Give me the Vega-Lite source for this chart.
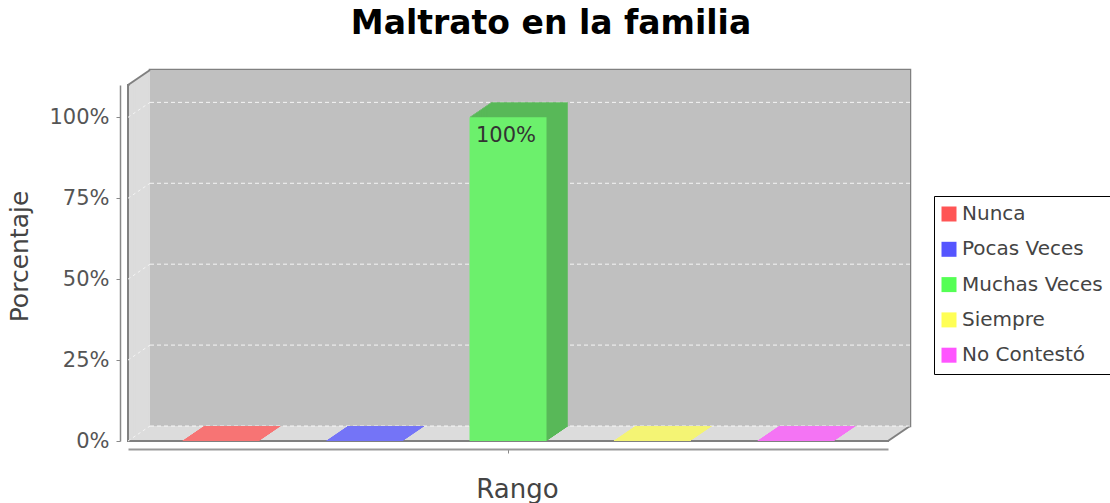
{
"$schema": "https://vega.github.io/schema/vega-lite/v6.json",
"width": 760,
"height": 356,
"autosize": "none",
"padding": {"left": 128, "top": 85, "right": 222, "bottom": 62},
"background": "#ffffff",
"config": {"view": {"stroke": null}, "font": "DejaVu Sans"},
"title": {"text": "Maltrato en la familia", "anchor": "middle", "frame": "group", "dx": 43, "dy": 18, "font": "DejaVu Sans", "fontSize": 33, "fontWeight": "bold", "color": "#000000", "baseline": "alphabetic", "offset": 20},
"data": {"values": [
{"serie": "Nunca", "valor": 0},
{"serie": "Pocas Veces", "valor": 0},
{"serie": "Muchas Veces", "valor": 1},
{"serie": "Siempre", "valor": 0},
{"serie": "No Contestó", "valor": 0}
]},
"layer": [
{
"data": {"values": [{"marco": "caja"}]},
"encoding": {
"x": {"datum": 0, "type": "quantitative", "scale": {"domain": [0, 1]}, "axis": null},
"x2": {"datum": 1},
"y": {"datum": 0, "type": "quantitative", "axis": null},
"y2": {"datum": 1.1}
},
"layer": [
{"mark": {"type": "rect", "fill": "#dcdcdc", "stroke": "#808080", "strokeWidth": 2}},
{"mark": {"type": "rect", "fill": "#c0c0c0", "fillOpacity": 0, "stroke": "#808080", "strokeWidth": 2.5, "xOffset": 22, "x2Offset": 22, "yOffset": -15, "y2Offset": -15}},
{"mark": {"type": "rect", "fill": "#dcdcdc", "xOffset": 1.467, "x2Offset": 1.467, "yOffset": -1, "y2Offset": -1}},
{"mark": {"type": "rect", "fill": "#dcdcdc", "xOffset": 2.933, "x2Offset": 2.933, "yOffset": -2, "y2Offset": -2}},
{"mark": {"type": "rect", "fill": "#dcdcdc", "xOffset": 4.4, "x2Offset": 4.4, "yOffset": -3, "y2Offset": -3}},
{"mark": {"type": "rect", "fill": "#dcdcdc", "xOffset": 5.867, "x2Offset": 5.867, "yOffset": -4, "y2Offset": -4}},
{"mark": {"type": "rect", "fill": "#dcdcdc", "xOffset": 7.333, "x2Offset": 7.333, "yOffset": -5, "y2Offset": -5}},
{"mark": {"type": "rect", "fill": "#dcdcdc", "xOffset": 8.8, "x2Offset": 8.8, "yOffset": -6, "y2Offset": -6}},
{"mark": {"type": "rect", "fill": "#dcdcdc", "xOffset": 10.267, "x2Offset": 10.267, "yOffset": -7, "y2Offset": -7}},
{"mark": {"type": "rect", "fill": "#dcdcdc", "xOffset": 11.733, "x2Offset": 11.733, "yOffset": -8, "y2Offset": -8}},
{"mark": {"type": "rect", "fill": "#dcdcdc", "xOffset": 13.2, "x2Offset": 13.2, "yOffset": -9, "y2Offset": -9}},
{"mark": {"type": "rect", "fill": "#dcdcdc", "xOffset": 14.667, "x2Offset": 14.667, "yOffset": -10, "y2Offset": -10}},
{"mark": {"type": "rect", "fill": "#dcdcdc", "xOffset": 16.133, "x2Offset": 16.133, "yOffset": -11, "y2Offset": -11}},
{"mark": {"type": "rect", "fill": "#dcdcdc", "xOffset": 17.6, "x2Offset": 17.6, "yOffset": -12, "y2Offset": -12}},
{"mark": {"type": "rect", "fill": "#dcdcdc", "xOffset": 19.067, "x2Offset": 19.067, "yOffset": -13, "y2Offset": -13}},
{"mark": {"type": "rect", "fill": "#dcdcdc", "xOffset": 20.533, "x2Offset": 20.533, "yOffset": -14, "y2Offset": -14}},
{"mark": {"type": "rect", "fill": "#c0c0c0", "xOffset": 22, "x2Offset": 22, "yOffset": -15, "y2Offset": -15}},
{"mark": {"type": "rule", "color": "#808080", "strokeWidth": 2, "x2Offset": 22, "y2Offset": -15},
 "encoding": {"x": {"datum": 0, "type": "quantitative", "scale": {"domain": [0, 1]}, "axis": null}, "x2": {"datum": 0}, "y": {"datum": 1.1, "type": "quantitative", "axis": null}, "y2": {"datum": 1.1}}},
{"mark": {"type": "rule", "color": "#808080", "strokeWidth": 2, "x2Offset": 22, "y2Offset": -15},
 "encoding": {"x": {"datum": 1, "type": "quantitative", "scale": {"domain": [0, 1]}, "axis": null}, "x2": {"datum": 1}, "y": {"datum": 0, "type": "quantitative", "axis": null}, "y2": {"datum": 0}}}
]
},
{
"data": {"values": [{"g": 0}, {"g": 0.25}, {"g": 0.5}, {"g": 0.75}, {"g": 1}]},
"layer": [
{"mark": {"type": "rule", "color": "#f4f4f4", "strokeDash": [3, 3], "strokeWidth": 1, "x2Offset": 22, "y2Offset": -15},
 "encoding": {"x": {"datum": 0, "type": "quantitative", "scale": {"domain": [0, 1]}, "axis": null}, "x2": {"datum": 0}, "y": {"field": "g", "type": "quantitative", "axis": null}, "y2": {"field": "g"}}},
{"mark": {"type": "rule", "color": "#ffffff", "strokeDash": [4, 3], "strokeWidth": 1, "opacity": 0.85, "xOffset": 22, "x2Offset": 22, "yOffset": -15},
 "encoding": {"x": {"datum": 0, "type": "quantitative", "scale": {"domain": [0, 1]}, "axis": null}, "x2": {"datum": 1}, "y": {"field": "g", "type": "quantitative", "axis": null}}}
]
},
{
"encoding": {
"x": {"field": "serie", "type": "nominal", "scale": {"domain": ["Nunca", "Pocas Veces", "Muchas Veces", "Siempre", "No Contestó"], "paddingInner": 0.4643, "paddingOuter": 0.3756}, "axis": null},
"y": {"field": "valor", "type": "quantitative", "axis": null},
"y2": {"datum": 0},
"fill": {"field": "serie", "type": "nominal", "scale": {"domain": ["Nunca", "Pocas Veces", "Muchas Veces", "Siempre", "No Contestó"], "range": ["#f77474", "#7474f7", "#58b858", "#f4f474", "#f474f4"]}, "legend": null}
},
"layer": [
{"mark": {"type": "bar", "xOffset": 0.733, "yOffset": -1, "y2Offset": 0}},
{"mark": {"type": "bar", "xOffset": 2.2, "yOffset": -2, "y2Offset": -1}},
{"mark": {"type": "bar", "xOffset": 3.667, "yOffset": -3, "y2Offset": -2}},
{"mark": {"type": "bar", "xOffset": 5.133, "yOffset": -4, "y2Offset": -3}},
{"mark": {"type": "bar", "xOffset": 6.6, "yOffset": -5, "y2Offset": -4}},
{"mark": {"type": "bar", "xOffset": 8.067, "yOffset": -6, "y2Offset": -5}},
{"mark": {"type": "bar", "xOffset": 9.533, "yOffset": -7, "y2Offset": -6}},
{"mark": {"type": "bar", "xOffset": 11.0, "yOffset": -8, "y2Offset": -7}},
{"mark": {"type": "bar", "xOffset": 12.467, "yOffset": -9, "y2Offset": -8}},
{"mark": {"type": "bar", "xOffset": 13.933, "yOffset": -10, "y2Offset": -9}},
{"mark": {"type": "bar", "xOffset": 15.4, "yOffset": -11, "y2Offset": -10}},
{"mark": {"type": "bar", "xOffset": 16.867, "yOffset": -12, "y2Offset": -11}},
{"mark": {"type": "bar", "xOffset": 18.333, "yOffset": -13, "y2Offset": -12}},
{"mark": {"type": "bar", "xOffset": 19.8, "yOffset": -14, "y2Offset": -13}},
{"mark": {"type": "bar", "xOffset": 21.267, "yOffset": -15, "y2Offset": -14}}
]
},
{
"mark": {"type": "bar"},
"encoding": {
"x": {"field": "serie", "type": "nominal", "scale": {"domain": ["Nunca", "Pocas Veces", "Muchas Veces", "Siempre", "No Contestó"], "paddingInner": 0.4643, "paddingOuter": 0.3756},
 "axis": {"orient": "bottom", "offset": 8, "values": ["Muchas Veces"], "labels": false, "ticks": true, "tickSize": 4, "tickColor": "#888888", "domainColor": "#999999", "domainWidth": 2, "grid": false, "title": "Rango", "titleFont": "DejaVu Sans", "titleFontSize": 26, "titleFontWeight": "normal", "titleColor": "#444444", "titleX": 389, "titleY": 48, "titleBaseline": "alphabetic", "titleAlign": "center"}},
"y": {"field": "valor", "type": "quantitative", "scale": {"domain": [0, 1.1], "nice": false, "zero": true},
 "axis": {"orient": "left", "offset": 8, "values": [0, 0.25, 0.5, 0.75, 1], "format": ".0%", "grid": false, "domainColor": "#888888", "domainWidth": 1.5, "tickColor": "#888888", "tickSize": 4, "labelFont": "DejaVu Sans", "labelFontSize": 21, "labelColor": "#555555", "labelPadding": 7, "title": "Porcentaje", "titleFont": "DejaVu Sans", "titleFontSize": 25, "titleFontWeight": "normal", "titleColor": "#444444", "titleX": -93, "titleY": 171, "titleBaseline": "alphabetic", "titleAlign": "center"}},
"y2": {"datum": 0},
"fill": {"field": "serie", "type": "nominal", "scale": {"domain": ["Nunca", "Pocas Veces", "Muchas Veces", "Siempre", "No Contestó"], "range": ["#f77474", "#7474f7", "#6cf06c", "#f4f474", "#f474f4"]}, "legend": null}
}
},
{
"transform": [{"filter": "datum.valor > 0"}],
"mark": {"type": "text", "font": "DejaVu Sans", "fontSize": 21, "color": "#333333", "baseline": "alphabetic", "dy": 25, "dx": -2},
"encoding": {
"x": {"field": "serie", "type": "nominal", "scale": {"domain": ["Nunca", "Pocas Veces", "Muchas Veces", "Siempre", "No Contestó"], "paddingInner": 0.4643, "paddingOuter": 0.3756}, "axis": null},
"y": {"field": "valor", "type": "quantitative", "axis": null},
"text": {"field": "valor", "type": "quantitative", "format": ".0%"}
}
},
{
"mark": {"type": "square", "opacity": 0},
"encoding": {
"x": {"field": "serie", "type": "nominal", "scale": {"domain": ["Nunca", "Pocas Veces", "Muchas Veces", "Siempre", "No Contestó"]}, "axis": null},
"y": {"field": "valor", "type": "quantitative", "axis": null},
"color": {"field": "serie", "type": "nominal", "scale": {"domain": ["Nunca", "Pocas Veces", "Muchas Veces", "Siempre", "No Contestó"], "range": ["#ff5555", "#5555ff", "#55ff55", "#ffff55", "#ff55ff"]},
 "legend": {"orient": "none", "legendX": 806, "legendY": 111, "title": null, "symbolType": "square", "symbolSize": 225, "symbolStrokeWidth": 0, "symbolOpacity": 1, "symbolOffset": -3, "labelFontSize": 20, "labelFont": "DejaVu Sans", "labelColor": "#444444", "strokeColor": "#000000", "fillColor": "#ffffff", "padding": 8, "rowPadding": 15.3, "labelOffset": 3}}
}
}
],
"resolve": {"scale": {"x": "independent", "fill": "independent"}, "axis": {"y": "independent"}}
}
